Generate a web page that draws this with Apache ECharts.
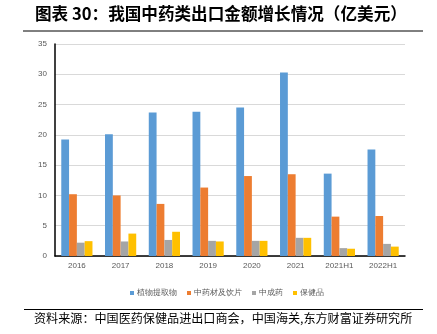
<!DOCTYPE html>
<html><head><meta charset="utf-8">
<script src="https://cdn.jsdelivr.net/npm/echarts@6/dist/echarts.min.js"></script>
<style>html,body{margin:0;padding:0;background:#fff}#c{width:437px;height:334px}</style>
</head><body><div id="c"></div>
<script>
const categories = ['2016','2017','2018','2019','2020','2021','2021H1','2022H1'];
const seriesNames = ['植物提取物','中药材及饮片','中成药','保健品'];
const plantExtract = [19.25, 20.1, 23.7, 23.8, 24.5, 30.3, 13.6, 17.6];
const herbsSlices = [10.2, 10.0, 8.6, 11.3, 13.2, 13.5, 6.5, 6.6];
const patentMedicine = [2.2, 2.4, 2.65, 2.5, 2.5, 3.0, 1.3, 2.0];
const healthProducts = [2.45, 3.7, 4.0, 2.4, 2.5, 3.0, 1.2, 1.55];
const yTicks = [0, 5, 10, 15, 20, 25, 30, 35];
const titleText = '图表 30：我国中药类出口金额增长情况（亿美元）';
const sourceText = '资料来源：中国医药保健品进出口商会，中国海关,东方财富证券研究所';

const colors = ['#5B9BD5', '#ED7D31', '#A5A5A5', '#FFC000'];
const values = [plantExtract, herbsSlices, patentMedicine, healthProducts];
const chart = echarts.init(document.getElementById('c'));
chart.setOption({
  animation: false,
  color: colors,
  grid: {left: 55, right: 32, top: 44, bottom: 78},
  legend: {
    data: seriesNames, left: 125, top: 284, itemWidth: 4, itemHeight: 4, itemGap: 10,
    icon: 'rect',
    textStyle: {fontSize: 8, color: '#595959', padding: [0, 0, 0, -2]}
  },
  xAxis: {
    type: 'category', data: categories,
    axisLine: {lineStyle: {color: '#000', width: 1.5}},
    axisTick: {show: false},
    axisLabel: {fontSize: 8, color: '#595959', margin: 6}
  },
  yAxis: {
    type: 'value', min: yTicks[0], max: yTicks[yTicks.length - 1], interval: 5,
    axisLine: {show: true, lineStyle: {color: '#000', width: 1.5}},
    axisTick: {show: false},
    axisLabel: {fontSize: 8, color: '#595959', margin: 8},
    splitLine: {lineStyle: {color: '#D9D9D9', width: 1.2}}
  },
  series: seriesNames.map((n, i) => ({
    name: n, type: 'bar', data: values[i], barWidth: 7.8, barGap: '0%'
  })),
  graphic: [
    {type: 'text', left: 35, top: 5, style: {text: titleText, font: 'bold 16.6px "Noto Sans CJK SC"', fill: '#000'}},
    {type: 'line', shape: {x1: 23, y1: 31, x2: 423, y2: 31}, style: {stroke: '#000', lineWidth: 1}},
    {type: 'line', shape: {x1: 24, y1: 309.5, x2: 423, y2: 309.5}, style: {stroke: '#000', lineWidth: 1}},
    {type: 'text', left: 34, top: 312, style: {text: sourceText, font: '12.1px "Noto Sans CJK SC"', fill: '#000'}}
  ]
});
</script></body></html>
